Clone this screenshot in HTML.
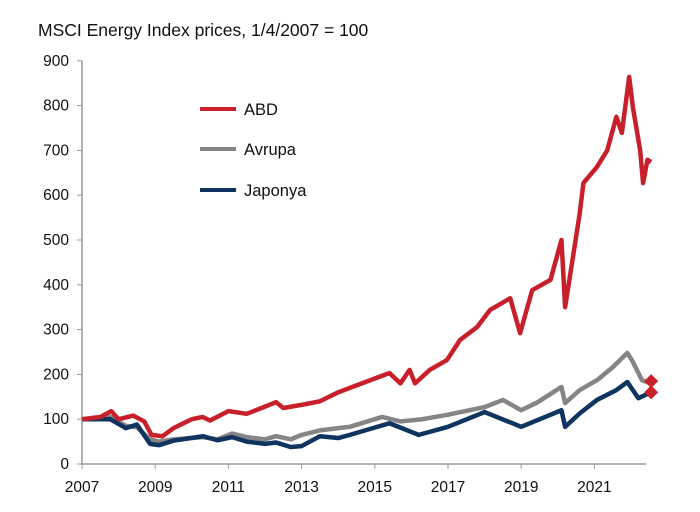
<!DOCTYPE html>
<html><head><meta charset="utf-8"><style>
body{margin:0;background:#fff;font-family:"Liberation Sans",sans-serif}
svg{display:block}
text{font-family:"Liberation Sans",sans-serif;fill:#111}
</style></head><body>
<svg id="chart" width="700" height="512">
<text x="38" y="36" font-size="17.5">MSCI Energy Index prices, 1/4/2007 = 100</text>
<g id="axes"></g><g id="series"></g><g id="legend"></g>
</svg>
<script>
const yTicks=[0,100,200,300,400,500,600,700,800,900];
const xTicks=[2007,2009,2011,2013,2015,2017,2019,2021];
const abdT=[2007,2007.5,2007.8,2008,2008.4,2008.7,2008.9,2009.2,2009.5,2010,2010.3,2010.5,2011,2011.5,2012,2012.3,2012.5,2013,2013.5,2014,2014.32,2015.4,2015.7,2015.95,2016.1,2016.5,2016.97,2017.33,2017.8,2018.15,2018.7,2018.97,2019.3,2019.8,2020.1,2020.2,2020.6,2020.7,2021.07,2021.35,2021.6,2021.75,2021.95,2022.05,2022.25,2022.33,2022.45,2022.55];
const abdV=[100,105,118,100,108,95,65,62,80,100,105,97,118,112,128,138,125,132,140,160,170,203,180,210,180,210,232,277,306,344,370,292,388,411,500,350,560,627,663,700,775,739,864,797,700,627,679,674];
const avrT=[2007,2007.77,2008.2,2008.5,2008.86,2009.1,2009.5,2010.3,2010.7,2011.1,2011.5,2012,2012.3,2012.7,2013,2013.5,2014,2014.32,2015.2,2015.7,2016.3,2017,2018,2018.5,2019,2019.45,2020.1,2020.2,2020.6,2021.07,2021.5,2021.9,2022.05,2022.3,2022.5];
const avrV=[100,105,85,82,55,50,55,60,55,68,60,55,62,55,65,75,80,83,105,95,100,110,127,143,120,138,172,136,165,187,216,248,228,187,181];
const japT=[2007,2007.77,2008.2,2008.5,2008.86,2009.1,2009.5,2010.3,2010.7,2011.1,2011.5,2012,2012.3,2012.7,2013,2013.5,2014,2014.32,2015.4,2016.2,2017,2018,2019,2020.1,2020.2,2020.6,2021.07,2021.6,2021.9,2022.2,2022.5];
const japV=[100,100,80,88,45,42,52,62,53,60,50,45,48,38,40,62,58,65,91,65,83,116,83,120,83,113,143,165,183,147,158];
const markerV=[185,160];
const X0=82,X1=646,Y0=464;
const xs=y=>X0+(y-2007)*36.6;
const ys=v=>Y0-v*0.448;
const NS="http://www.w3.org/2000/svg";
function mk(tag,attrs,parent){const e=document.createElementNS(NS,tag);for(const k in attrs)e.setAttribute(k,attrs[k]);parent.appendChild(e);return e;}
const ax=document.getElementById('axes');
let a=mk('line',{x1:X0,y1:ys(900),x2:X0,y2:Y0,stroke:'#999','stroke-width':1.5},ax);


a=mk('line',{x1:X0,y1:Y0,x2:X1,y2:Y0,stroke:'#999','stroke-width':1.5},ax);


yTicks.forEach(v=>{mk('line',{x1:X0-5,x2:X0,y1:ys(v),y2:ys(v),stroke:'#999'},ax);
const t=mk('text',{x:69,y:ys(v)+5,'text-anchor':'end','font-size':15.5},ax);t.textContent=v;

});
xTicks.forEach(v=>{mk('line',{x1:xs(v),x2:xs(v),y1:Y0,y2:Y0+5,stroke:'#999'},ax);
const t=mk('text',{x:xs(v),y:492,'text-anchor':'middle','font-size':15.5},ax);t.textContent=v;

});
const sg=document.getElementById('series');
function line(T,V,c,name){const p=mk('polyline',{points:T.map((t,i)=>xs(t)+','+ys(V[i])).join(' '),fill:'none',stroke:c,'stroke-width':4.5,'stroke-linejoin':'round'},sg);

}
line(avrT,avrV,'#858585','avrupa-line');
line(japT,japV,'#0f3460','japonya-line');
line(abdT,abdV,'#c8202a','abd-line');
markerV.forEach(v=>{const x=xs(2022.55),y=ys(v);const d=mk('polygon',{points:`${x},${y-7} ${x+7},${y} ${x},${y+7} ${x-7},${y}`,fill:'#c8202a'},sg);

});
const lg=document.getElementById('legend');
[['ABD','#c8202a',109],['Avrupa','#858585',149],['Japonya','#0f3460',190]].forEach(([n,c,y])=>{
const g=mk('g',{},lg);


mk('line',{x1:200,x2:236,y1:y,y2:y,stroke:c,'stroke-width':4},g);
const t=mk('text',{x:244,y:y+6,'font-size':16.5},g);t.textContent=n;});
</script>
</body></html>
